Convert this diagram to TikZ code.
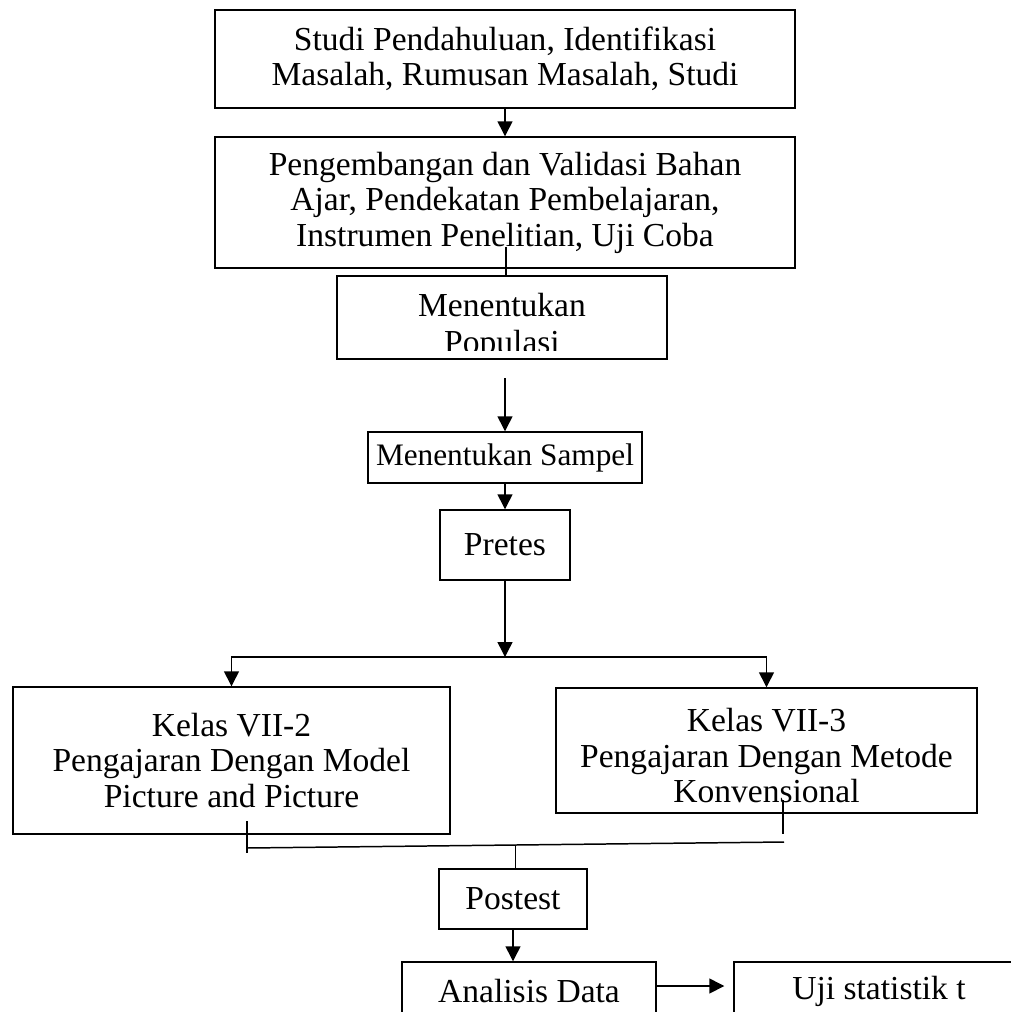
\documentclass[tikz,border=0pt]{standalone}
\usepackage{fontspec}
\setmainfont{Liberation Serif}
\usetikzlibrary{calc,arrows.meta}
\tikzset{
	kotak/.style={draw, line width=0.85pt, align=center, inner sep=0pt, font=\fontsize{19.1}{20.2}\selectfont},
	teks/.style={inner sep=0pt, font=\fontsize{19.1}{20.2}\selectfont},
	panah/.style={line width=0.85pt, -{Triangle[length=8.5pt,width=8.5pt]}},
	garis/.style={line width=0.85pt},
}

\begin{document}
\begin{tikzpicture}[x=0.02cm, y=-0.02cm]
				%%%%% START %%%%%
				\useasboundingbox (0,0) rectangle (1011,1012);
				\clip (0,0) rectangle (1011,1012);
				
				\node[kotak, minimum width=11.6cm, minimum height=1.96cm] (studi) at (505,59) {Studi Pendahuluan, Identifikasi\\Masalah, Rumusan Masalah, Studi};
				\node[kotak, minimum width=11.6cm, minimum height=2.62cm] (kembang) at (505,202.5) {Pengembangan dan Validasi Bahan\\Ajar, Pendekatan Pembelajaran,\\Instrumen Penelitian, Uji Coba};
				\draw[panah] (studi.south) -- (kembang.north);
				
				\node[kotak, minimum width=6.6cm, minimum height=1.66cm] (populasi) at (502,317.5) {};
				\begin{scope}
					\clip (337,276) rectangle (667,350);
					\node[teks, anchor=base] (populasi1) at (502,316) {Menentukan};
					\node[teks, anchor=base] (populasi2) at (502,353) {Populasi};
				\end{scope}
				\coordinate (k1) at (506,247);
				\draw[garis] (k1) -- (k1 |- populasi.north);
				
				\node[kotak, minimum width=5.48cm, minimum height=1.02cm, font=\fontsize{17.8}{19}\selectfont] (sampel) at (505,457.5) {Menentukan Sampel};
				\coordinate (p1) at (505,378);
				\draw[panah] (p1) -- (sampel.north);
				
				\node[kotak, minimum width=2.6cm, minimum height=1.4cm] (pretes) at (505,545) {Pretes};
				\draw[panah] (sampel.south) -- (pretes.north);
				
				\node[kotak, minimum width=8.74cm, minimum height=2.94cm] (kelasa) at (231.5,760.5) {Kelas VII-2\\Pengajaran Dengan Model\\Picture and Picture};
				\node[kotak, minimum width=8.42cm, minimum height=2.5cm, text height=2.1cm] (kelasb) at (766.5,750.5) {Kelas VII-3\\Pengajaran Dengan Metode\\Konvensional};
				\coordinate (cabang) at (505,657);
				\draw[panah] (pretes.south) -- (cabang);
				\draw[panah] (cabang) -| (kelasa.north);
				\draw[panah] (cabang) -| (kelasb.north);
				
				% garis gabung
				\coordinate (ga) at (247,848);
				\coordinate (gb) at (784,842);
				\draw[garis] (247,821) -- (247,853);
				\draw[garis] (783,800) -- (783,834);
				\draw[garis] (ga) -- (gb);
				\coordinate (tengah) at ($(ga)!0.5!(gb)$);
				
				\node[kotak, minimum width=2.96cm, minimum height=1.2cm] (postest) at (513,899) {Postest};
				\draw[garis] (tengah) -- (tengah |- postest.north);
				
				\node[kotak, minimum width=5.08cm, minimum height=1.16cm] (analisis) at (529,991) {Analisis Data};
				\node[kotak, minimum width=5.8cm, minimum height=1.16cm] (uji) at (879,991) {Uji statistik t};
				\draw[panah] (postest.south) -- (postest.south |- analisis.north);
				\draw[panah] ([yshift=0.1cm]analisis.east) -- ([xshift=-0.18cm,yshift=0.1cm]uji.west);
				%%%%% END %%%%%
\end{tikzpicture}
\end{document}
